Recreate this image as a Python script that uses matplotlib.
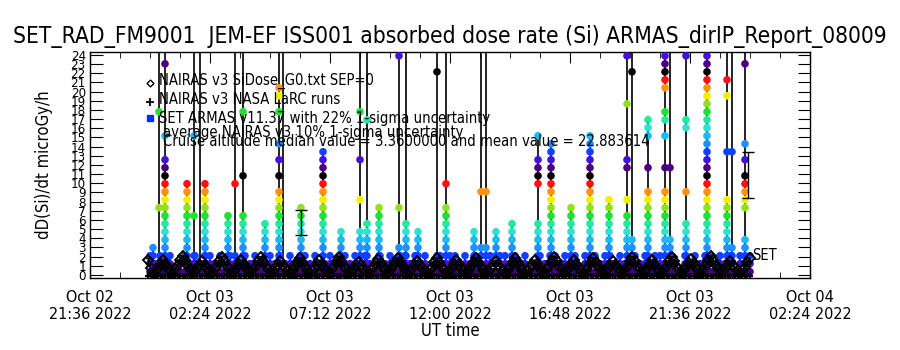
import numpy as np
import matplotlib
matplotlib.use("Agg")
import matplotlib.pyplot as plt

# ---------------- data ----------------
title = "SET_RAD_FM9001  JEM-EF ISS001 absorbed dose rate (Si) ARMAS_dirIP_Report_08009"
x_tick_hours = [0.0, 4.8, 9.6, 14.4, 19.2, 24.0, 28.8]   # hours after Oct 02 21:36 UT
x_tick_labels = ["Oct 02\n21:36 2022", "Oct 03\n02:24 2022", "Oct 03\n07:12 2022",
                 "Oct 03\n12:00 2022", "Oct 03\n16:48 2022", "Oct 03\n21:36 2022",
                 "Oct 04\n02:24 2022"]
y_ticks = list(range(0, 25))

# NAIRAS v3 model (half-orbit humps), sampled every nairas_dt hours from nairas_t0
nairas_t0 = 2.333
nairas_dt = 0.0978
nairas_v = [1.6, 0.8,
    0.1, 0.4, 0.8, 1.2, 1.6, 1.2, 0.8, 0.4,
    0.1, 0.6, 1.1, 1.6, 2.1, 1.6, 1.1, 0.6,
    0.1, 0.4, 0.8, 1.1, 1.5, 1.1, 0.8, 0.4,
    0.1, 0.6, 1.0, 1.5, 2.0, 1.5, 1.0, 0.6,
    0.1, 0.4, 0.8, 1.2, 1.6, 1.2, 0.8, 0.4,
    0.1, 0.6, 1.0, 1.5, 2.0, 1.5, 1.0, 0.6,
    0.1, 0.4, 0.8, 1.1, 1.5, 1.1, 0.8, 0.4,
    0.1, 0.5, 1.0, 1.4, 1.9, 1.4, 1.0, 0.5,
    0.1, 0.4, 0.8, 1.2, 1.6, 1.2, 0.8, 0.4,
    0.1, 0.6, 1.0, 1.5, 2.0, 1.5, 1.0, 0.6,
    0.1, 0.4, 0.7, 1.1, 1.4, 1.1, 0.7, 0.4,
    0.1, 0.5, 0.9, 1.3, 1.7, 1.3, 0.9, 0.5,
    0.1, 0.5, 1.0, 1.4, 1.9, 1.4, 1.0, 0.5,
    0.1, 0.4, 0.8, 1.1, 1.5, 1.1, 0.8, 0.4,
    0.1, 0.5, 0.9, 1.4, 1.8, 1.4, 0.9, 0.5,
    0.1, 0.4, 0.8, 1.2, 1.6, 1.2, 0.8, 0.4,
    0.1, 0.5, 1.0, 1.4, 1.9, 1.4, 1.0, 0.5,
    0.1, 0.4, 0.8, 1.1, 1.5, 1.1, 0.8, 0.4,
    0.1, 0.5, 1.0, 1.4, 1.9, 1.4, 1.0, 0.5,
    0.1, 0.4, 0.8, 1.2, 1.6, 1.2, 0.8, 0.4,
    0.1, 0.6, 1.0, 1.5, 2.0, 1.5, 1.0, 0.6,
    0.1, 0.4, 0.8, 1.2, 1.6, 1.2, 0.8, 0.4,
    0.1, 0.5, 1.0, 1.4, 1.9, 1.4, 1.0, 0.5,
    0.1, 0.4, 0.8, 1.1, 1.5, 1.1, 0.8, 0.4,
    0.1, 0.6, 1.0, 1.5, 2.0, 1.5, 1.0, 0.6,
    0.1, 0.4, 0.8, 1.2, 1.6, 1.2, 0.8, 0.4,
    0.1, 0.6, 1.0, 1.5, 2.0, 1.5, 1.0, 0.6,
    0.1, 0.5, 0.9, 1.3, 1.7, 1.3, 0.9, 0.5,
    0.1, 0.6, 1.1, 1.6, 2.1, 1.6, 1.1, 0.6,
    0.1, 0.4, 0.8, 1.1, 1.5, 1.1, 0.8, 0.4,
    0.1, 0.5, 0.9, 1.4, 1.8]
# NASA LaRC runs (near zero along the whole pass)
larc_v = [-0.1] * len(nairas_v)

# SET ARMAS quantized dose-rate levels (microGy/h), level index 0..27
level_values = [0.36, 1.23, 2.10, 2.98, 3.85, 4.72, 5.59, 6.46, 7.34, 8.21,
                9.08, 9.95, 10.82, 11.70, 12.57, 13.44, 14.31, 15.18, 16.06, 16.93,
                17.80, 18.67, 19.54, 20.42, 21.29, 22.16, 23.03, 23.90]
off_scale_value = 30.0   # 'z' = value above the plotted range

# SET ARMAS passes: time (h) and the levels seen in each pass
pass_hours = [2.52, 2.76, 3.00, 3.88, 4.16, 4.40, 4.60, 5.52, 5.80, 6.12,
              7.00, 7.56, 7.72, 8.44, 9.32, 10.04, 10.80, 11.08, 11.56, 12.36,
              12.64, 13.12, 13.88, 14.24, 15.36, 15.64, 15.84, 16.24, 16.88, 17.92,
              18.44, 19.24, 20.00, 20.76, 21.48, 21.68, 22.32, 23.00, 23.20, 23.84,
              24.68, 25.48, 25.68, 26.20]
pass_levels = ["0-3", "1,8,20,z", "0-14,17,26,z", "0-11", "0-2,7,17,z", "1,z", "0-11",
               "0-7", "0-2,11,z", "0-7,12,20,z",
               "0-6", "0-10,12,14,16,20,22,23,z", "1,z", "0-8", "0-15", "0-5",
               "0-5,9,14,20,z", "1-6,19,z", "0-8", "0-3,8,27,z",
               "0-6,z", "0-5", "0-2,25,z", "0-8,11,z", "0-5", "0-3,10,z", "1-3,10,z",
               "0-5", "0-6", "0-6,11-14,17",
               "0-16", "0-8", "0-17", "0-9", "0-7,9,13,14,21,27,z", "0-4,25,z",
               "0-10,13,17-19", "0-10,13,17,19,20,23-27,z", "1-4,13,z",
               "0-6,10,18,19,27,z",
               "0-27,z", "0-9,15,22,24,z", "1-3,15,z", "0-4,8-12,14,16,26,z"]

# quiet-time background: highest level reached, every base_dt hours from base_t0
base_t0 = 2.40
base_dt = 0.20
base_top = ("21212012121221202112121021212122120121221212102121"
            "22121201212212121021221212012122121202121221210212"
            "122121021212212120212")

# SET ARMAS 22% 1-sigma error bars
set_err_t = [8.44, 26.32]
set_err_v = [5.72, 10.90]
set_err_e = [1.37, 2.50]
# average NAIRAS 10% 1-sigma error bar
nairas_err_t = [2.333]
nairas_err_v = [1.6]
nairas_err_e = [0.3]

legend_lines = ["NAIRAS v3 SiDose_G0.txt SEP=0",
                "NAIRAS v3 NASA LaRC runs",
                "SET ARMAS v11.37 with 22% 1-sigma uncertainty",
                "average NAIRAS v3 10% 1-sigma uncertainty",
                "Cruise altitude median value = 3.3600000 and mean value = 22.883614"]

# ---------------- style ----------------
level_colors = ["#4a0080", "#4510d8", "#1040ff", "#1e90ff", "#20b8f0", "#30e0d0",
                "#20eaa0", "#20e030", "#90e020", "#f0f000", "#ff9010", "#ff1010",
                "#000000"]

plt.rcParams["font.family"] = ["DejaVu Sans"]
plt.rcParams["font.stretch"] = "condensed"


def parse_levels(s):
    out = []
    for part in s.split(","):
        if part == "z":
            out.append("z")
        elif "-" in part:
            a, b = part.split("-")
            out.extend(range(int(a), int(b) + 1))
        else:
            out.append(int(part))
    return out


fig = plt.figure(figsize=(9, 3.5), dpi=100)
ax = fig.add_axes([90 / 900, 72 / 350, 720 / 900, 226 / 350])
ax.set_xlim(0, 28.8)
ax.set_ylim(-0.33, 24.32)

# assemble SET columns
columns = []
for t, s in zip(pass_hours, pass_levels):
    columns.append((t, parse_levels(s)))
for i, ch in enumerate(base_top):
    columns.append((base_t0 + base_dt * i, list(range(0, int(ch) + 1))))
columns.sort(key=lambda c: c[0])

line_t, line_v = [], []
mk_t, mk_v, mk_c = [], [], []
for t, lv in columns:
    seq = lv + lv[::-1][1:]
    for k in seq:
        line_t.append(t)
        line_v.append(off_scale_value if k == "z" else level_values[k])
    for k in lv:
        if k != "z":
            mk_t.append(t)
            mk_v.append(level_values[k])
            mk_c.append(level_colors[k % len(level_colors)])

ax.plot(line_t, line_v, color="black", lw=0.6, zorder=2)
ax.scatter(mk_t, mk_v, c=mk_c, s=30, marker="o", edgecolors="none", zorder=3)

nt = [nairas_t0 + nairas_dt * i for i in range(len(nairas_v))]
ax.plot(nt, larc_v, ls="none", marker="+", ms=5, mew=1.6, color="black", zorder=4, clip_on=False)
ax.plot(nt, nairas_v, color="black", lw=1.2, zorder=4)
ax.plot(nt, nairas_v, ls="none", marker="D", ms=5, mfc="none", mec="black", mew=1.4, zorder=4)

ax.errorbar(set_err_t, set_err_v, yerr=set_err_e, fmt="none", ecolor="black",
            elinewidth=1.0, capsize=4, capthick=1.0, zorder=5)
ax.errorbar(nairas_err_t, nairas_err_v, yerr=nairas_err_e, fmt="none", ecolor="black",
            elinewidth=1.0, capsize=2, capthick=1.0, zorder=5)

# axes styling
for sp in ax.spines.values():
    sp.set_linewidth(1.0)
ax.set_xticks(x_tick_hours)
ax.set_xticklabels(x_tick_labels, fontsize=11.5, linespacing=1.1)
ax.set_xticks(np.arange(0, 28.81, 1.2), minor=True)
ax.set_yticks(y_ticks)
ax.set_yticklabels([str(v) for v in y_ticks], fontsize=9.5)
ax.tick_params(axis="x", which="major", direction="in", length=8, top=True, bottom=True, pad=9)
ax.tick_params(axis="x", which="minor", direction="in", length=4, top=True, bottom=True)
ax.tick_params(axis="y", which="major", direction="in", length=9, left=True, right=True, pad=3)
ax.set_xlabel("UT time", fontsize=12, labelpad=0)
ax.set_ylabel("dD(Si)/dt microGy/h", fontsize=12, labelpad=13)
title_txt = fig.text(0.5, 1 - 37 / 350, title, ha="center", va="center", fontsize=15)

# legend (drawn as in the original, inside the frame)
def ax_xy(px, py):
    return ((px - 90) / 720, (278 - py) / 226)

sym = [("D", dict(ms=3.5, mfc="white", mec="black", mew=1.0)),
       ("+", dict(ms=6, mew=1.3, color="black")),
       ("s", dict(ms=4, color="#0030ff"))]
sym_y = [83, 102, 118]
for (m, kw), py in zip(sym, sym_y):
    x, y = ax_xy(150, py)
    ax.plot([x], [y], marker=m, ls="none", transform=ax.transAxes, zorder=6, **kw)
text_pos = [(159, 81), (159, 99), (159, 119), (163, 132), (163, 141)]
leg_txt = []
for s, (px, py) in zip(legend_lines, text_pos):
    x, y = ax_xy(px, py)
    leg_txt.append(ax.text(x, y, s, transform=ax.transAxes, fontsize=10.5,
                           ha="left", va="center", zorder=6))

x, y = ax_xy(752, 256)
ax.text(x, y, "SET", transform=ax.transAxes, fontsize=10.5, ha="left", va="center")

# fit text widths to the original's measured widths
fig.canvas.draw()
r = fig.canvas.get_renderer()
def fit(txt, target_px):
    w = txt.get_window_extent(r).width
    txt.set_fontsize(txt.get_fontsize() * target_px / w)
fit(title_txt, 878)
fit(leg_txt[4], 489)
fs = leg_txt[4].get_fontsize()
for t in leg_txt[:4]:
    t.set_fontsize(fs)

fig.savefig("out.png", dpi=100, facecolor="white")
